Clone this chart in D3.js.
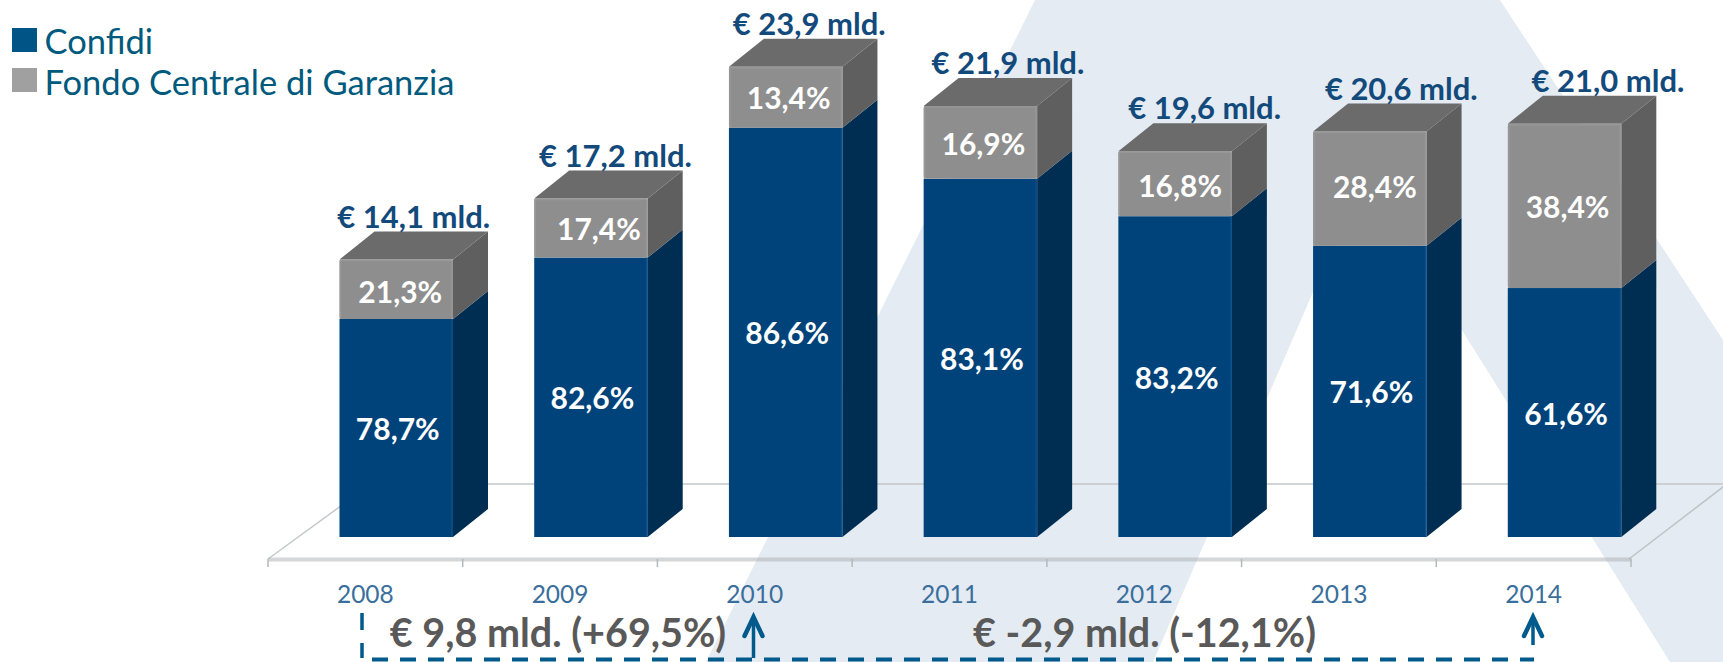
<!DOCTYPE html>
<html lang="it">
<head>
<meta charset="utf-8">
<title>Confidi e Fondo Centrale di Garanzia</title>
<script src="https://cdn.jsdelivr.net/npm/d3@7"></script>
<style>
  html, body { margin: 0; padding: 0; background: #fff; overflow: hidden; }
  svg { display: block; font-family: Lato, "Open Sans", sans-serif; }
</style>
</head>
<body>
<div id="stage"></div>
<script>
const years = ['2008', '2009', '2010', '2011', '2012', '2013', '2014'];
const confidi = [11.08, 14.2, 20.8, 18.2, 16.3, 14.8, 12.65];
const fondo = [3.02, 3.0, 3.1, 3.7, 3.3, 5.8, 8.35];
const totalLabels = ['€ 14,1 mld.', '€ 17,2 mld.', '€ 23,9 mld.', '€ 21,9 mld.', '€ 19,6 mld.', '€ 20,6 mld.', '€ 21,0 mld.'];
const confidiLabels = ['78,7%', '82,6%', '86,6%', '83,1%', '83,2%', '71,6%', '61,6%'];
const fondoLabels = ['21,3%', '17,4%', '13,4%', '16,9%', '16,8%', '28,4%', '38,4%'];
const seriesNames = ['Confidi', 'Fondo Centrale di Garanzia'];
const deltaFirst = '€ 9,8 mld. (+69,5%)';
const deltaSecond = '€ -2,9 mld. (-12,1%)';

const W = 1723, H = 662;
const BASE = 537, AXIS_Y = 559, BACK_Y = 484;
const OFFSET = 71.5, BAR_W = 113.5, DX = 35, DY = 28;
const BLUE = { front: '#00437a', side: '#002e52', rim: '#0a4f8a' };
const GREY = { front: '#8e8e8e', side: '#5f5f5f', top: '#6b6b6b', rim: '#979797' };
const DASH = '#005a8c';
// the labels in the original were placed by hand, so they drift off the bar centres
const totalShift = [0, 7, 6, 10, 12, 14, 26];
const fondoShift = [[1, 2], [5, 0], [0, 0], [0, 1], [2, 1], [2, -3], [0, 0]];

const svg = d3.select('#stage').append('svg').attr('width', W).attr('height', H).attr('viewBox', `0 0 ${W} ${H}`);

// logo shape behind the chart
const line = d3.line();
svg.append('path').attr('fill', '#e4ebf2')
  .attr('d', line([[1035, 0], [1500, 0], [1723, 340], [1723, 662], [1670, 662], [1364, 174], [1153, 662], [706, 662]]) + 'Z');

const x = d3.scaleBand().domain(years).range([268, 1631]);
const y = d3.scaleLinear().domain([0, 25]).range([BASE, BASE - 492]);

const rows = years.map((year, i) => ({ year, confidi: confidi[i], fondo: fondo[i] }));
const stacked = d3.stack().keys(['confidi', 'fondo'])(rows);

// floor
const floor = svg.append('g').attr('fill', 'none');
floor.append('path').attr('stroke', '#c4c8cc').attr('stroke-width', 1.5)
  .attr('d', line([[268, AXIS_Y], [371, BACK_Y], [1723, BACK_Y]]));
floor.append('path').attr('stroke', '#bfc3c7').attr('stroke-width', 1.5)
  .attr('d', line([[1629, AXIS_Y], [1727, BACK_Y]]));

// bars
const bars = svg.append('g');
stacked.forEach((layer, li) => {
  const col = li === 0 ? BLUE : GREY;
  const g = bars.append('g').attr('class', layer.key);
  layer.forEach(d => {
    const x0 = x(d.data.year) + OFFSET, x1 = x0 + BAR_W;
    const yb = y(d[0]), yt = y(d[1]);
    g.append('path').attr('fill', col.side)
      .attr('d', line([[x1, yb], [x1 + DX, yb - DY], [x1 + DX, yt - DY], [x1, yt]]) + 'Z');
    if (li === 1) {
      g.append('path').attr('fill', col.top)
        .attr('d', line([[x0, yt], [x0 + DX, yt - DY], [x1 + DX, yt - DY], [x1, yt]]) + 'Z');
    }
    g.append('rect').attr('x', x0).attr('y', yt).attr('width', BAR_W).attr('height', yb - yt)
      .attr('rx', li === 1 ? 2 : 0).attr('fill', col.front);
    g.append('path').attr('fill', 'none').attr('stroke', col.rim).attr('stroke-width', 1.5)
      .attr('d', li === 1 ? line([[x0 + 1, yb], [x0 + 1, yt + 1], [x1 - 1, yt + 1], [x1 - 1, yb]]) : line([[x1 - 1, yb], [x1 - 1, yt]]));
  });
});

// bar labels
const labels = svg.append('g').attr('text-anchor', 'middle').attr('font-weight', 700);
stacked[1].forEach((d, i) => {
  const x0 = x(d.data.year) + OFFSET;
  labels.append('text').attr('x', x0 + (BAR_W + DX) / 2 + totalShift[i]).attr('y', y(d[1]) - DY - 4)
    .attr('font-size', 31).attr('fill', '#134a7c').text(totalLabels[i]);
  labels.append('text').attr('x', x0 + BAR_W / 2 + 3 + fondoShift[i][0]).attr('y', (y(d[0]) + y(d[1])) / 2 + 12 + fondoShift[i][1])
    .attr('font-size', 30).attr('fill', '#fff').text(fondoLabels[i]);
});
stacked[0].forEach((d, i) => {
  const x0 = x(d.data.year) + OFFSET;
  labels.append('text').attr('x', x0 + BAR_W / 2 + 1.5).attr('y', (y(d[0]) + y(d[1])) / 2 + 12)
    .attr('font-size', 30).attr('fill', '#fff').text(confidiLabels[i]);
});

// axis: band edges get the ticks, band centres the years
const axis = svg.append('g').attr('transform', `translate(0,${AXIS_Y})`)
  .call(d3.axisBottom(x).tickSize(0).tickPadding(27));
axis.select('.domain').attr('stroke', 'rgba(170,174,178,0.5)').attr('stroke-width', 4);
axis.selectAll('text').attr('font-size', 24.5).attr('font-family', 'Lato').attr('fill', '#3a6e9c');
const edges = years.map(d => x(d)).concat(x.range()[1]);
axis.selectAll('line.edge').data(edges).join('line').attr('class', 'edge')
  .attr('x1', d => d).attr('x2', d => d).attr('y1', 0).attr('y2', 8)
  .attr('stroke', '#b4b8bc').attr('stroke-width', 1.5);

// legend
const legend = svg.append('g');
seriesNames.forEach((name, i) => {
  const top = 28 + i * 40;
  legend.append('rect').attr('x', 12).attr('y', top).attr('width', 25).attr('height', 24)
    .attr('fill', i === 0 ? '#005587' : '#a0a0a0');
  legend.append('text').attr('x', 44.5).attr('y', 54 + i * 41).attr('font-size', 34.5)
    .attr('fill', '#005a7d').text(name);
});

// delta brackets under the axis
const notes = svg.append('g');
notes.append('path').attr('fill', 'none').attr('stroke', DASH).attr('stroke-width', 4)
  .attr('stroke-dasharray', '16 12').attr('d', line([[372, 659.5], [1534, 659.5]]));
notes.append('path').attr('fill', 'none').attr('stroke', DASH).attr('stroke-width', 3.5)
  .attr('stroke-dasharray', '17 13').attr('d', line([[362, 613], [362, 658]]));
[[753.5, 658], [1533, 645]].forEach(([ax, ay]) => {
  notes.append('path').attr('fill', 'none').attr('stroke', DASH).attr('stroke-width', 3.5).attr('d', line([[ax, 622], [ax, ay]]));
  notes.append('path').attr('fill', 'none').attr('stroke', DASH).attr('stroke-width', 4.5).attr('stroke-linecap', 'round')
    .attr('d', line([[ax - 9, 636], [ax, 617], [ax + 9, 636]]));
});
notes.append('text').attr('x', 558).attr('y', 647).attr('text-anchor', 'middle').attr('font-size', 39.5).attr('font-weight', 700)
  .attr('fill', '#595959').text(deltaFirst);
notes.append('text').attr('x', 1144.5).attr('y', 647).attr('text-anchor', 'middle').attr('font-size', 39.5).attr('font-weight', 700)
  .attr('fill', '#595959').text(deltaSecond);
</script>
</body>
</html>
